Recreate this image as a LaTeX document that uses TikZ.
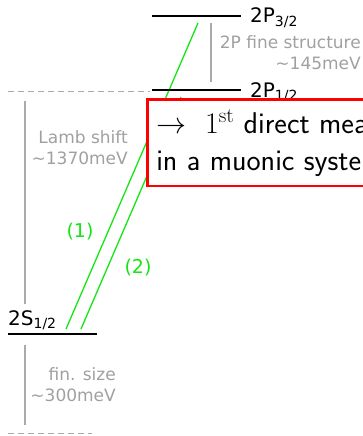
\RequirePackage{fix-cm}
\documentclass[tikz,border=0pt]{standalone}
\usepackage[no-math]{fontspec}
\setmainfont{DejaVu Sans}
\definecolor{lgray}{RGB}{170,170,170}
\definecolor{tgray}{RGB}{160,160,160}
\definecolor{lgreen}{RGB}{20,230,20}
\tikzset{
  levelline/.style={line width=1.4pt, black},
  graybar/.style={line width=1.4pt, lgray},
  dashline/.style={line width=1pt, lgray, dash pattern=on 6pt off 4pt},
  trans/.style={line width=1.3pt, lgreen},
  lvllabel/.style={inner sep=0pt, font=\fontsize{20}{24}\selectfont},
  graynote/.style={inner sep=0pt, text=tgray, align=right, font=\fontsize{17}{21}\selectfont},
  translabel/.style={inner sep=0pt, text=lgreen, font=\fontsize{19}{23}\selectfont},
  redbox/.style={draw=red, line width=2.5pt, fill=white, align=left, inner xsep=9pt, inner ysep=10pt,
    font=\sffamily\fontsize{30}{37}\selectfont}
}
\begin{document}
\begin{tikzpicture}[x=1pt, y=-1pt]
\useasboundingbox (0,0) rectangle (363,436);
\clip (0,0) rectangle (363,436);
% level coordinates
\coordinate (p32l) at (152,16);  \coordinate (p32r) at (241,16);
\coordinate (p12l) at (152,90);  \coordinate (p12r) at (241,90);
\coordinate (s12l) at (8,334);   \coordinate (s12r) at (97,334);
\coordinate (dtl) at (8,91);     \coordinate (dtr) at (150,91);
\coordinate (dbl) at (8,433);    \coordinate (dbr) at (92,433);
% gray bars
\coordinate (fsa) at (211,23);   \coordinate (fsb) at (211,82);
\coordinate (lsa) at (25,101);   \coordinate (lsb) at (25,304);
\coordinate (fna) at (25,345);   \coordinate (fnb) at (25,425);
% transitions
\coordinate (g1a) at (66,329);   \coordinate (g1b) at (198,23);
\coordinate (g2a) at (81,329);   \coordinate (g2b) at (181,97);

\draw[dashline] (dtl) -- (dtr);
\draw[dashline] (dbl) -- (dbr);
\draw[graybar] (fsa) -- (fsb);
\draw[graybar] (lsa) -- (lsb);
\draw[graybar] (fna) -- (fnb);
\draw[trans] (g1a) -- (g1b);
\draw[trans] (g2a) -- (g2b);
\draw[levelline] (p32l) -- (p32r);
\draw[levelline] (p12l) -- (p12r);
\draw[levelline] (s12l) -- (s12r);

\node[lvllabel, anchor=base west] (lp32) at (250,23) {2P\textsubscript{3/2}};
\node[lvllabel, anchor=base west] (lp12) at (250,97) {2P\textsubscript{1/2}};
\node[lvllabel, anchor=base west] (ls12) at (8,325) {2S\textsubscript{1/2}};

\node[graynote, anchor=east] (fine) at (361,53) {2P fine structure\\\textasciitilde145meV};
\node[graynote, anchor=east] (lamb) at (128,148) {Lamb shift\\\textasciitilde1370meV};
\node[graynote, anchor=east] (fin) at (116,385) {fin. size\\\textasciitilde300meV};

\node[translabel] (t1) at (80,232) {(1)};
\node[translabel] (t2) at (138,268) {(2)};

\node[redbox, anchor=north west] (note) at (146,98) {$\rightarrow$\ \ $1^{\mathrm{st}}$ direct measurement\\in a muonic system};
\end{tikzpicture}
\end{document}
